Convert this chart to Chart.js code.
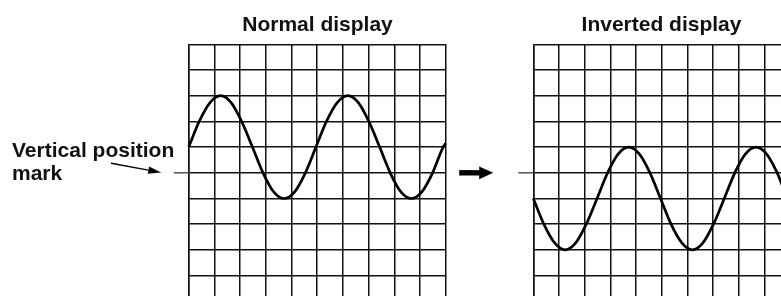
<!DOCTYPE html>
<html>
<head>
<meta charset="UTF-8">
<script src="https://cdn.jsdelivr.net/npm/chart.js@4.4.1/dist/chart.umd.min.js"></script>
<style>
  html, body { margin:0; padding:0; background:#fff; }
  #wrap { position:relative; width:781px; height:296px; overflow:hidden;
          font-family:'Liberation Sans', Arial, sans-serif; font-weight:bold; color:#111; }
  canvas { position:absolute; left:0; top:0; }
  .title { position:absolute; top:13.2px; width:257px; text-align:center; font-size:21px; line-height:21px; white-space:nowrap; }
  #markLabel { position:absolute; left:12px; top:137.8px; font-size:21px; line-height:23.3px; white-space:nowrap; }
</style>
</head>
<body>
<div id="wrap">
  <canvas id="normalCvs" width="781" height="320"></canvas>
  <canvas id="invertCvs" width="800" height="320"></canvas>
  <div class="title" style="left:189px">Normal display</div>
  <div class="title" style="left:533px">Inverted display</div>
  <div id="markLabel">Vertical position<br>mark</div>
</div>
<script>
// horizontal position in grid divisions (10 div across)
const divX = [0, 0.41, 0.83, 1.24, 1.65, 2.06, 2.48, 2.89, 3.30, 3.71, 4.13, 4.54, 4.95,
              5.36, 5.78, 6.19, 6.60, 7.01, 7.43, 7.84, 8.25, 8.66, 9.08, 9.49, 9.90, 10];
// vertical value in divisions, 0 = vertical position mark
const normalY = [1, 2, 2.73, 3, 2.73, 2, 1, 0, -0.73, -1, -0.73, 0, 1,
                 2, 2.73, 3, 2.73, 2, 1, 0, -0.73, -1, -0.73, 0, 1, 1.15];
const invertedY = [-1, -2, -2.73, -3, -2.73, -2, -1, 0, 0.73, 1, 0.73, 0, -1,
                   -2, -2.73, -3, -2.73, -2, -1, 0, 0.73, 1, 0.73, 0, -1, -1.15];
const xRange = [0, 10];
const yRange = [-5, 5];

// dash left of the grid at the 0 level
const markPlugin = {
  id: 'posMark',
  afterDraw(chart) {
    const ctx = chart.ctx, a = chart.chartArea;
    const y = chart.scales.y.getPixelForValue(0);
    ctx.save();
    ctx.strokeStyle = '#555';
    ctx.lineWidth = 1.5;
    ctx.beginPath();
    ctx.moveTo(a.left - 15, y);
    ctx.lineTo(a.left, y);
    ctx.stroke();
    ctx.restore();
  }
};

// thin pointer arrow + big arrow between the two grids
const arrowPlugin = {
  id: 'arrows',
  afterDraw(chart) {
    const ctx = chart.ctx, a = chart.chartArea;
    const y = chart.scales.y.getPixelForValue(0);
    ctx.save();
    ctx.fillStyle = '#000';
    ctx.strokeStyle = '#000';
    // thin arrow to the mark
    const x0 = 111, y0 = 163.3, x1 = a.left - 27.5, y1 = y - 0.3;
    const ang = Math.atan2(y1 - y0, x1 - x0);
    const hl = 13, hw = 3.6;
    ctx.lineWidth = 1.4;
    ctx.beginPath();
    ctx.moveTo(x0, y0);
    ctx.lineTo(x1 - hl * Math.cos(ang), y1 - hl * Math.sin(ang));
    ctx.stroke();
    ctx.beginPath();
    ctx.moveTo(x1, y1);
    ctx.lineTo(x1 - hl * Math.cos(ang) - hw * Math.sin(ang), y1 - hl * Math.sin(ang) + hw * Math.cos(ang));
    ctx.lineTo(x1 - hl * Math.cos(ang) + hw * Math.sin(ang), y1 - hl * Math.sin(ang) - hw * Math.cos(ang));
    ctx.closePath();
    ctx.fill();
    // big arrow
    const bx = a.right + 13.5;
    ctx.fillRect(bx, y - 2.7, 22, 5.4);
    ctx.beginPath();
    ctx.moveTo(bx + 20, y - 6.4);
    ctx.lineTo(bx + 34, y);
    ctx.lineTo(bx + 20, y + 6.4);
    ctx.closePath();
    ctx.fill();
    ctx.restore();
  }
};

function makeScope(id, yVals, pad, plugins) {
  return new Chart(document.getElementById(id), {
    type: 'line',
    data: {
      datasets: [{
        data: divX.map((x, i) => ({ x, y: yVals[i] })),
        borderColor: '#000',
        borderWidth: 2.7,
        pointRadius: 0,
        cubicInterpolationMode: 'monotone',
        clip: false
      }]
    },
    options: {
      responsive: false,
      animation: false,
      events: [],
      layout: { padding: pad },
      plugins: { legend: { display: false }, tooltip: { enabled: false } },
      scales: {
        x: {
          type: 'linear', min: xRange[0], max: xRange[1],
          ticks: { display: false, stepSize: 1 },
          grid: { color: '#111', lineWidth: 1.5, drawTicks: false },
          border: { color: '#111', width: 1.5 }
        },
        y: {
          min: yRange[0], max: yRange[1],
          ticks: { display: false, stepSize: 1 },
          grid: { color: '#111', lineWidth: 1.5, drawTicks: false },
          border: { color: '#111', width: 1.5 }
        }
      }
    },
    plugins
  });
}

makeScope('normalCvs', normalY, { left: 188.7, right: 335.3, top: 44.3, bottom: 18.7 }, [markPlugin, arrowPlugin]);
makeScope('invertCvs', invertedY, { left: 533.3, right: 9.7, top: 44.3, bottom: 18.7 }, [markPlugin]);
</script>
</body>
</html>
